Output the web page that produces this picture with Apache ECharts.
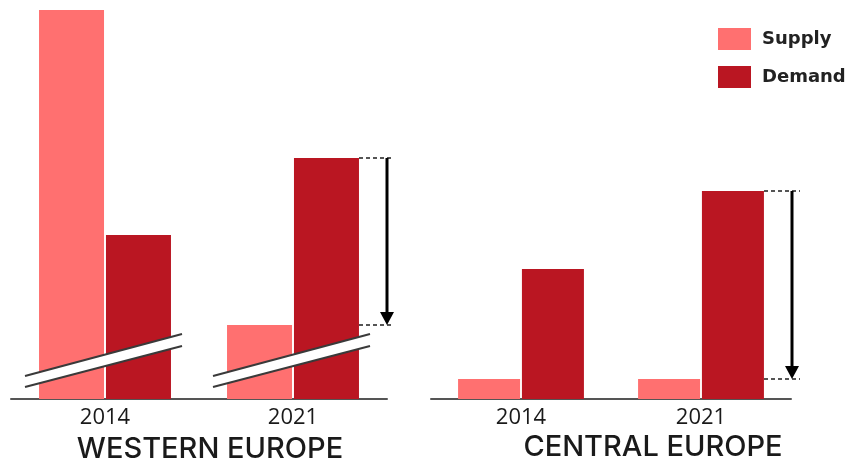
<!DOCTYPE html>
<html><head><meta charset="utf-8">
<script src="https://cdn.jsdelivr.net/npm/echarts@6/dist/echarts.min.js"></script>
<style>html,body{margin:0;padding:0;background:#fff}#c{width:856px;height:467px}</style>
</head><body><div id="c"></div>
<script>
const years = ['2014', '2021'];
const westSupply = [38.9, 7.4];
const westDemand = [16.4, 24.1];
const centralSupply = [2.0, 2.0];
const centralDemand = [13.0, 20.8];
const regionTitles = ['WESTERN EUROPE', 'CENTRAL EUROPE'];
const seriesNames = ['Supply', 'Demand'];

const SUPPLY = '#FF7070';
const DEMAND = '#BA1622';

const chart = echarts.init(document.getElementById('c'), null, {renderer: 'canvas'});
const xAxisCommon = {
  type: 'category', data: years,
  axisLine: {lineStyle: {color: '#555', width: 2}},
  axisTick: {show: false},
  axisLabel: {color: '#1a1a1a', fontFamily: 'Open Sans', fontSize: 22, margin: 8}
};
const yAxisCommon = {type: 'value', min: 0, max: 38.9, show: false, splitLine: {show: false}};
chart.setOption({
  animation: false,
  legend: {
    orient: 'vertical', left: 718, top: 28, padding: 0, itemWidth: 33, itemHeight: 22, itemGap: 16,
    icon: 'rect', data: seriesNames,
    textStyle: {color: '#222', fontFamily: 'DejaVu Sans', fontWeight: 'bold', fontSize: 18, padding: [5, 0, 0, 6]}
  },
  grid: [
    {left: 11, top: 10, width: 376, height: 389},
    {left: 431, top: 10, width: 360, height: 389}
  ],
  xAxis: [Object.assign({gridIndex: 0}, xAxisCommon), Object.assign({gridIndex: 1}, xAxisCommon)],
  yAxis: [Object.assign({gridIndex: 0}, yAxisCommon), Object.assign({gridIndex: 1}, yAxisCommon)],
  series: [
    {name: 'Supply', type: 'bar', xAxisIndex: 0, yAxisIndex: 0, data: westSupply, barWidth: 65, barGap: '3%', itemStyle: {color: SUPPLY}},
    {name: 'Demand', type: 'bar', xAxisIndex: 0, yAxisIndex: 0, data: westDemand, barWidth: 65, barGap: '3%', itemStyle: {color: DEMAND}},
    {name: 'Supply', type: 'bar', xAxisIndex: 1, yAxisIndex: 1, data: centralSupply, barWidth: 62, barGap: '3%', itemStyle: {color: SUPPLY}},
    {name: 'Demand', type: 'bar', xAxisIndex: 1, yAxisIndex: 1, data: centralDemand, barWidth: 62, barGap: '3%', itemStyle: {color: DEMAND}}
  ]
});

function px(grid, cat, val) {
  return chart.convertToPixel({gridIndex: grid}, [cat, val]);
}
const g = [];
// break marks on western bars
for (let i = 0; i < 2; i++) {
  const base = px(0, i, 0);
  const cx = base[0];
  const x0 = cx - 80, x1 = cx + 77;
  const yb = base[1];
  const uy0 = yb - 23, uy1 = yb - 65, ly0 = yb - 12, ly1 = yb - 53;
  g.push({type: 'polygon', shape: {points: [[x0, uy0], [x1, uy1], [x1, ly1], [x0, ly0]]}, style: {fill: '#fff'}, z: 100});
  g.push({type: 'line', shape: {x1: x0, y1: uy0, x2: x1, y2: uy1}, style: {stroke: '#3a3a3a', lineWidth: 2}, z: 101});
  g.push({type: 'line', shape: {x1: x0, y1: ly0, x2: x1, y2: ly1}, style: {stroke: '#3a3a3a', lineWidth: 2}, z: 101});
}
// arrows
function arrow(grid, topVal, botVal, barRight, ax, dashEnd) {
  const top = px(grid, 1, topVal)[1];
  const bot = px(grid, 1, botVal)[1];
  g.push({type: 'line', shape: {x1: barRight, y1: top, x2: dashEnd, y2: top}, style: {stroke: '#555', lineWidth: 2, lineDash: [4, 3]}, z: 102});
  g.push({type: 'line', shape: {x1: barRight, y1: bot, x2: dashEnd, y2: bot}, style: {stroke: '#555', lineWidth: 2, lineDash: [4, 3]}, z: 102});
  g.push({type: 'line', shape: {x1: ax, y1: top, x2: ax, y2: bot - 10}, style: {stroke: '#000', lineWidth: 3}, z: 103});
  g.push({type: 'polygon', shape: {points: [[ax - 7, bot - 13], [ax + 7, bot - 13], [ax, bot]]}, style: {fill: '#000'}, z: 103});
}
const wc = px(0, 1, 0)[0];
arrow(0, westDemand[1], westSupply[1], wc + 66, wc + 94, wc + 99);
const cc = px(1, 1, 0)[0];
arrow(1, centralDemand[1], centralSupply[1], cc + 63, cc + 91, cc + 99);
// region titles
g.push({type: 'text', style: {text: regionTitles[0], x: px(0, 0, 0)[0] + 105, y: 449, fill: '#1a1a1a', font: '500 29px Inter', textAlign: 'center', textVerticalAlign: 'middle'}, z: 110});
g.push({type: 'text', style: {text: regionTitles[1], x: cc - 48, y: 447, fill: '#1a1a1a', font: '500 29px Inter', textAlign: 'center', textVerticalAlign: 'middle'}, z: 110});
chart.setOption({graphic: g});
</script></body></html>
